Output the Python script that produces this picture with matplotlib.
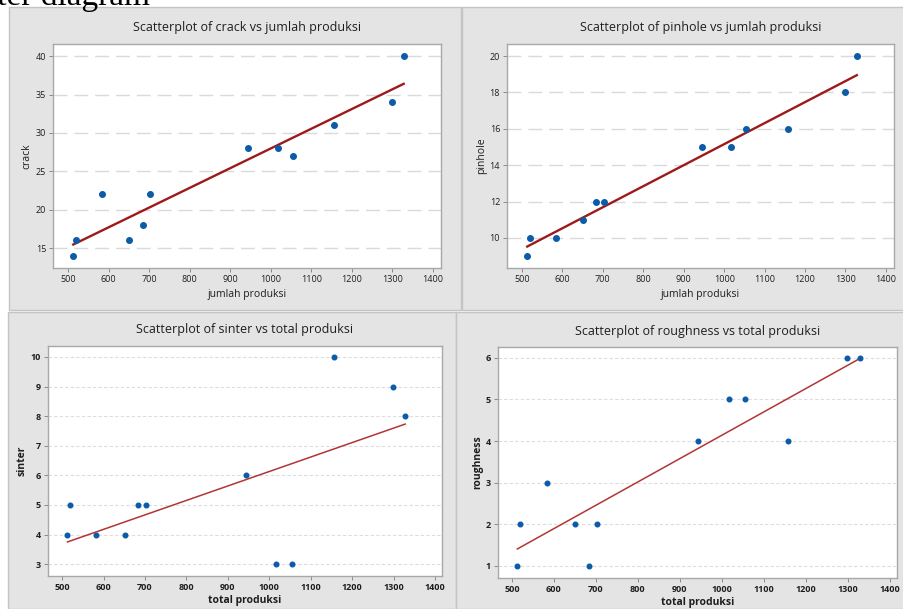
import numpy as np
import matplotlib
matplotlib.use("Agg")
from matplotlib import pyplot as plt
from matplotlib.patches import Rectangle

produksi = [513, 519, 583, 651, 684, 703, 944, 1017, 1055, 1157, 1299, 1328]
crack = [14, 16, 22, 16, 18, 22, 28, 28, 27, 31, 34, 40]
pinhole = [9, 10, 10, 11, 12, 12, 15, 15, 16, 16, 18, 20]
sinter = [4, 5, 4, 4, 5, 5, 6, 3, 3, 10, 9, 8]
roughness = [1, 2, 3, 2, 1, 2, 4, 5, 5, 4, 6, 6]

x_ticks = list(range(500, 1500, 100))

W, H = 904, 609
fig = plt.figure(figsize=(W / 100, H / 100), dpi=100)
fig.patch.set_facecolor("white")
plt.rcParams["font.family"] = ["Open Sans", "DejaVu Sans"]

text_color = "#1E1E1E"
panel_color = "#E4E4E4"
edge_color = "#C4C4C4"


def add_panel(l, t, r, b):
    fig.add_artist(Rectangle((l / W, 1 - b / H), (r - l) / W, (b - t) / H,
                             transform=fig.transFigure, facecolor=panel_color,
                             edgecolor=edge_color, linewidth=1.0, zorder=0))


def px_axes(l, t, r, b):
    return fig.add_axes([l / W, 1 - b / H, (r - l) / W, (b - t) / H])


def scatter_panel(ax, x, y, title, xlabel, ylabel, yticks, xlim, ylim,
                  top=True):
    x = np.array(x, dtype=float)
    y = np.array(y, dtype=float)
    ax.set_facecolor("white")
    ax.set_xlim(*xlim)
    ax.set_ylim(*ylim)
    ax.set_xticks(x_ticks)
    ax.set_yticks(yticks)
    if top:
        ax.grid(axis="y", color="#DADADA", linestyle=(0, (10, 5)), linewidth=1.0)
        ax.scatter(x, y, s=16, color="#0B5BA8", zorder=3)
        line_kw = dict(color="#9E1A1A", linewidth=1.7)
        weight = "normal"
    else:
        ax.grid(axis="y", color="#DDDDDD", linestyle=(0, (3, 2)), linewidth=0.8)
        ax.scatter(x, y, s=11, color="#0B5BA8", zorder=3)
        line_kw = dict(color="#B23535", linewidth=1.1)
        weight = "bold"
    ax.set_axisbelow(True)

    slope, icpt = np.polyfit(x, y, 1)
    xs = np.array([x.min(), x.max()])
    ax.plot(xs, icpt + slope * xs, zorder=2, **line_kw)

    for sp in ax.spines.values():
        sp.set_color("#A8A8A8")
        sp.set_linewidth(1.0)
    ax.tick_params(axis="both", length=3, width=0.7, color="#8A8A8A",
                   labelsize=6.5, labelcolor=text_color, pad=2)
    for lab in ax.get_xticklabels() + ax.get_yticklabels():
        lab.set_fontweight(weight)
    ax.set_title(title, fontsize=9, color=text_color, pad=9)
    ax.set_xlabel(xlabel, fontsize=7.5, color=text_color,
                  labelpad=4 if top else 2, fontweight=weight)
    ax.set_ylabel(ylabel, fontsize=7.5, color=text_color, labelpad=2,
                  fontweight=weight)


# grey panel frames
add_panel(9, 7, 461, 310)
add_panel(462, 7, 904, 310)
add_panel(8, 312, 456, 609)
add_panel(456, 312, 904, 609)

# caption line of the page, cut off by the top edge as in the screenshot
fig.text(150 / W, 1 - 5 / H, "atter diagram", ha="right", va="baseline",
         fontsize=24, family=["Liberation Serif", "DejaVu Serif"],
         color="black")

ax1 = px_axes(53, 44, 441, 268)
scatter_panel(ax1, produksi, crack, "Scatterplot of crack vs jumlah produksi",
              "jumlah produksi", "crack", [15, 20, 25, 30, 35, 40],
              (463, 1420), (12.4, 41.6))

ax2 = px_axes(507, 44, 894, 268)
scatter_panel(ax2, produksi, pinhole,
              "Scatterplot of pinhole vs jumlah produksi",
              "jumlah produksi", "pinhole", [10, 12, 14, 16, 18, 20],
              (463, 1420), (8.35, 20.66))

ax3 = px_axes(48, 346, 442, 576)
scatter_panel(ax3, produksi, sinter, "Scatterplot of sinter vs total produksi",
              "total produksi", "sinter", list(range(3, 11)),
              (466, 1417), (2.6, 10.37), top=False)

ax4 = px_axes(498, 347, 897, 578)
scatter_panel(ax4, produksi, roughness,
              "Scatterplot of roughness vs total produksi",
              "total produksi", "roughness", list(range(1, 7)),
              (467, 1417), (0.71, 6.26), top=False)

fig.savefig("out.png", dpi=100)
